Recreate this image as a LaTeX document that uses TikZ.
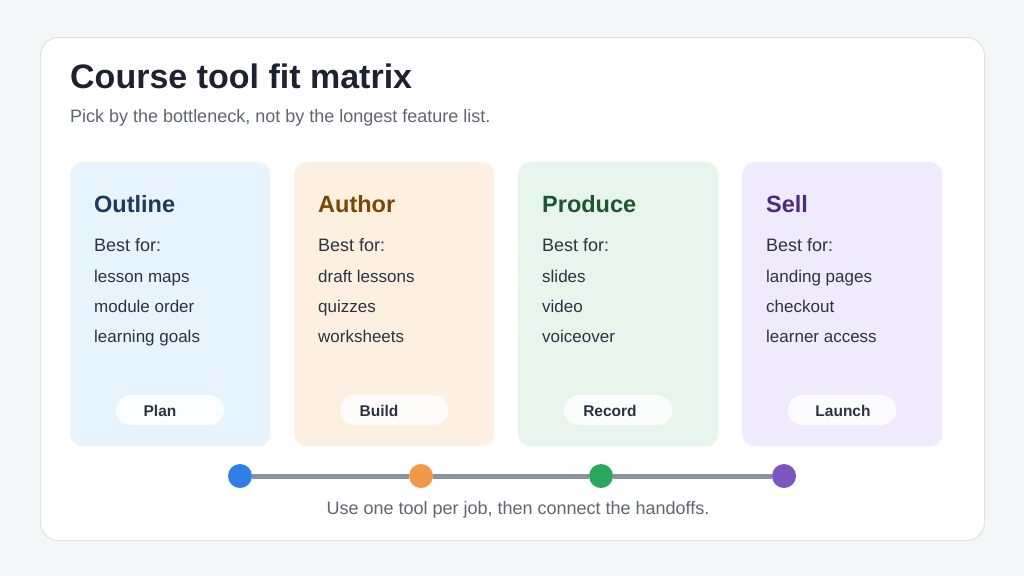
\documentclass[tikz,border=0pt]{standalone}
\usepackage{fontspec}
\setmainfont{Liberation Sans}
\definecolor{pagebg}{HTML}{F4F6F8}
\definecolor{panelbd}{HTML}{DDE2E8}
\definecolor{titlec}{HTML}{1E2230}
\definecolor{subc}{HTML}{5F6670}
\definecolor{bodyc}{HTML}{2C3340}
\definecolor{bluebg}{HTML}{E7F3FD}
\definecolor{orangebg}{HTML}{FEF0E0}
\definecolor{greenbg}{HTML}{E7F5EC}
\definecolor{purplebg}{HTML}{EFEAFD}
\definecolor{bluet}{HTML}{1B3A5C}
\definecolor{oranget}{HTML}{7A4505}
\definecolor{greent}{HTML}{1E5631}
\definecolor{purplet}{HTML}{4A2C7A}
\definecolor{linec}{HTML}{8A929E}
\definecolor{dotblue}{HTML}{2F7FE6}
\definecolor{dotorange}{HTML}{F0994A}
\definecolor{dotgreen}{HTML}{27A85C}
\definecolor{dotpurple}{HTML}{7B55C0}
\tikzset{
  card/.style={rounded corners=12pt, minimum width=200pt, minimum height=284pt, anchor=north west, inner sep=0pt, draw=none},
  cardtitle/.style={anchor=base west, font=\fontsize{23.5}{28}\selectfont\bfseries, inner sep=0pt},
  bestfor/.style={anchor=base west, font=\fontsize{18}{22}\selectfont, text=bodyc, inner sep=0pt},
  item/.style={anchor=base west, font=\fontsize{17}{20}\selectfont, text=bodyc, inner sep=0pt},
  pill/.style={rounded corners=15pt, minimum width=108pt, minimum height=30pt, fill=white, fill opacity=0.85, inner sep=0pt},
  pilltext/.style={anchor=base, font=\fontsize{15.5}{18}\selectfont\bfseries, text=bodyc, inner sep=0pt},
  dot/.style={circle, minimum size=24pt, inner sep=0pt},
  tline/.style={draw=linec, line width=5pt},
}
\begin{document}
\begin{tikzpicture}[x=1pt,y=-1pt]
\useasboundingbox (0,0) rectangle (1024,576);
\fill[pagebg] (0,0) rectangle (1024,576);
\node[draw=panelbd, line width=1pt, fill=white, rounded corners=18pt, minimum width=944pt, minimum height=503pt, anchor=north west, inner sep=0pt] (panel) at (40,37) {};
\node[anchor=base west, inner sep=0pt, font=\fontsize{34}{40}\selectfont\bfseries, text=titlec] (title) at (70,88) {Course tool fit matrix};
\node[anchor=base west, inner sep=0pt, font=\fontsize{18}{22}\selectfont, text=subc] (subtitle) at (70,122) {Pick by the bottleneck, not by the longest feature list.};
% cards
\node[card, fill=bluebg] (c1) at (70,162) {};
\node[card, fill=orangebg] (c2) at (294,162) {};
\node[card, fill=greenbg] (c3) at (518,162) {};
\node[card, fill=purplebg] (c4) at (742,162) {};
% card 1
\node[cardtitle, text=bluet] (t1) at (94,212) {Outline};
\node[bestfor] (b1) at (94,251) {Best for:};
\node[item] (i11) at (94,282) {lesson maps};
\node[item] (i12) at (94,312) {module order};
\node[item] (i13) at (94,342) {learning goals};
\node[pill] (p1) at (170,410) {};
\node[pilltext] (pt1) at (160,416) {Plan};
% card 2
\node[cardtitle, text=oranget] (t2) at (318,212) {Author};
\node[bestfor] (b2) at (318,251) {Best for:};
\node[item] (i21) at (318,282) {draft lessons};
\node[item] (i22) at (318,312) {quizzes};
\node[item] (i23) at (318,342) {worksheets};
\node[pill] (p2) at (394,410) {};
\node[pilltext] (pt2) at (379,416) {Build};
% card 3
\node[cardtitle, text=greent] (t3) at (542,212) {Produce};
\node[bestfor] (b3) at (542,251) {Best for:};
\node[item] (i31) at (542,282) {slides};
\node[item] (i32) at (542,312) {video};
\node[item] (i33) at (542,342) {voiceover};
\node[pill] (p3) at (618,410) {};
\node[pilltext] (pt3) at (610,416) {Record};
% card 4
\node[cardtitle, text=purplet] (t4) at (766,212) {Sell};
\node[bestfor] (b4) at (766,251) {Best for:};
\node[item] (i41) at (766,282) {landing pages};
\node[item] (i42) at (766,312) {checkout};
\node[item] (i43) at (766,342) {learner access};
\node[pill] (p4) at (842,410) {};
\node[pilltext] (pt4) at (843,416) {Launch};
% timeline
\node[dot, fill=dotblue] (d1) at (240,476) {};
\node[dot, fill=dotorange] (d2) at (421,476) {};
\node[dot, fill=dotgreen] (d3) at (601,476) {};
\node[dot, fill=dotpurple] (d4) at (784,476) {};
\draw[tline] (d1) -- (d2);
\draw[tline] (d2) -- (d3);
\draw[tline] (d3) -- (d4);
\node[anchor=base, inner sep=0pt, font=\fontsize{18}{22}\selectfont, text=subc] (caption) at (518,514) {Use one tool per job, then connect the handoffs.};
\end{tikzpicture}
\end{document}
